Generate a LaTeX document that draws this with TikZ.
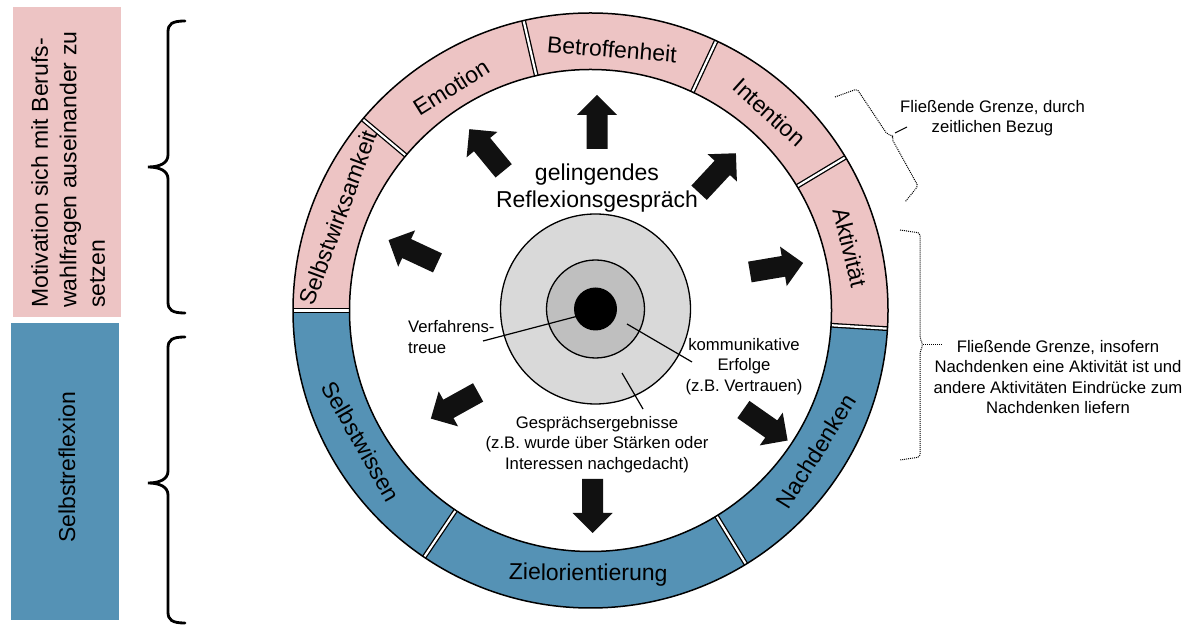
\documentclass[tikz,border=0pt]{standalone}
\usepackage{fontspec}
\setmainfont{Liberation Sans}
\usetikzlibrary{calc}
\definecolor{ringpink}{HTML}{EDC4C4}
\definecolor{ringblue}{HTML}{5592B5}
\definecolor{lgray}{HTML}{D9D9D9}
\definecolor{mgray}{HTML}{BFBFBF}
\definecolor{arrowblack}{HTML}{111111}
\begin{document}
\begin{tikzpicture}[x=1pt,y=1pt,
  ringlabel/.style={font=\fontsize{23}{27}\selectfont, inner sep=0pt, text=black},
  small/.style={font=\fontsize{16.7}{20.5}\selectfont, inner sep=0pt, text=black},
  big/.style={font=\fontsize{23}{28.5}\selectfont, inner sep=0pt, text=black},
  gapline/.style={line width=1.3pt, double=white, double distance=2.2pt},
  ringline/.style={line width=1.5pt},
  target/.style={circle, draw, line width=1.3pt, inner sep=0pt},
  leader/.style={line width=1.2pt},
  curly/.style={line width=2.8pt, line cap=round},
  dotcurly/.style={line width=1pt, dash pattern=on 1pt off 1pt, rounded corners=2pt},
  bigarrow/.pic={\fill[arrowblack] (-27,-10.5) -- (7,-10.5) -- (7,-20) -- (27,0) -- (7,20) -- (7,10.5) -- (-27,10.5) -- cycle;}
]
\useasboundingbox (0,0) rectangle (1191,626);
\fill[white] (0,0) rectangle (1191,626);

% left boxes
\fill[ringpink] (13,309) rectangle (121,619);
\fill[ringblue] (11,6) rectangle (119,303);
\node[big, rotate=90, anchor=north west, align=left] (motiv) at (31,318)
  {Motivation sich mit Berufs-\\wahlfragen auseinander zu\\setzen};
\node[big, rotate=90] (selbstr) at (67,158.5) {Selbstreflexion};

% braces
\draw[curly] (185,605) .. controls (172,605) and (168,602) .. (168,594) -- (168,471)
  .. controls (168,463) and (160,459) .. (148,459) .. controls (160,459) and (168,455) .. (168,447)
  -- (168,324) .. controls (168,316) and (172,313) .. (185,313);
\draw[curly] (185,289) .. controls (172,289) and (168,286) .. (168,278) -- (168,155)
  .. controls (168,147) and (160,143) .. (148,143) .. controls (160,143) and (168,139) .. (168,131)
  -- (168,14) .. controls (168,6) and (172,3) .. (185,3);

% ring
\begin{scope}[shift={(590.5,315.5)}]
  \foreach \a/\b/\c in {-3.5/31/ringpink, 31/65/ringpink, 65/103/ringpink, 103/140/ringpink,
      140/180/ringpink, 180/236/ringblue, 236/301.5/ringblue, 301.5/356.5/ringblue}
    \fill[\c] (\a:297.5) arc[start angle=\a, end angle=\b, radius=297.5]
      -- (\b:241) arc[start angle=\b, end angle=\a, radius=241] -- cycle;
  \foreach \a in {-3.5,31,65,103,140,180,236,301.5}
    \draw[gapline] (\a:241) -- (\a:297.5);
  \draw[ringline] (0,0) circle[radius=297.5];
  \draw[ringline] (0,0) circle[radius=241];

  \node[ringlabel, rotate=-4.7] (betr) at (85.3:262) {Betroffenheit};
  \node[ringlabel, rotate=32] (emo) at (122:263) {Emotion};
  \node[ringlabel, rotate=69.8] (swk) at (159.8:269) {Selbstwirksamkeit};
  \node[ringlabel, rotate=-42.1] (inten) at (47.9:267) {Intention};
  \node[ringlabel, rotate=-76.3] (akt) at (13.7:267) {Aktivität};
  \node[ringlabel, rotate=58] (nach) at (328:266) {Nachdenken};
  \node[ringlabel, rotate=-0.5] (ziel) at (269.5:264) {Zielorientierung};
  \node[ringlabel, rotate=-60.3] (swiss) at (209.7:264) {Selbstwissen};
\end{scope}

% central target
\node[target, fill=lgray, minimum size=190pt] (outc) at (595.5,317) {};
\node[target, fill=mgray, minimum size=98pt] (midc) at (595.5,317) {};
\node[circle, fill=black, inner sep=0pt, minimum size=43pt] (core) at (595.5,317) {};

% title
\node[ringlabel, align=center, font=\fontsize{23}{27}\selectfont] (title) at (597,437.5)
  {gelingendes\\Reflexionsgespräch};

% arrows
\pic[rotate=90] at (597,504) {bigarrow};
\pic[rotate=129.5] at (486.5,476) {bigarrow};
\pic[rotate=155] at (413,374.5) {bigarrow};
\pic[rotate=47] at (717.5,453) {bigarrow};
\pic[rotate=9.6] at (776.5,358.5) {bigarrow};
\pic[rotate=-35] at (765.5,201) {bigarrow};
\pic[rotate=-90] at (592.5,120) {bigarrow};
\pic[rotate=209] at (454.5,220.5) {bigarrow};

% inner labels
\node[small, align=left, anchor=west] (verf) at (408,288.8) {Verfahrens-\\treue};
\node[small, align=center] (komm) at (744,259.7) {kommunikative\\Erfolge\\(z.B. Vertrauen)};
\node[small, align=center] (gespr) at (597,181.7)
  {Gesprächsergebnisse\\(z.B. wurde über Stärken oder\\Interessen nachgedacht)};
\coordinate (verfA) at (582,311);
\coordinate (verfB) at (483,285);
\coordinate (kommA) at (627,302);
\coordinate (kommB) at (692,264);
\coordinate (gesA) at (622,253);
\coordinate (gesB) at (643,217);
\draw[leader] (verfA) -- (verfB);
\draw[leader] (kommA) -- (kommB);
\draw[leader] (gesA) -- (gesB);

% right annotations
\draw[dotcurly] (835,529) -- (857,537) -- (887,492) -- (893,490) -- (892,487) -- (918,440) -- (905,424);
\coordinate (tickA) at (895,493);
\coordinate (tickB) at (907,499);
\draw[line width=0.9pt] (tickA) -- (tickB);
\node[small, align=center] (fl1) at (992.5,508) {Fließende Grenze, durch\\zeitlichen Bezug};

\draw[dotcurly] (900,396) -- (920,393) -- (920,288) -- (923,281) -- (920,274) -- (920,169) -- (900,166);
\coordinate (tick2A) at (923,281);
\coordinate (tick2B) at (943,281);
\draw[line width=1pt, dash pattern=on 1pt off 1pt] (tick2A) -- (tick2B);
\node[small, align=center] (fl2) at (1058,249)
  {Fließende Grenze, insofern\\Nachdenken eine Aktivität ist und\\andere Aktivitäten Eindrücke zum\\Nachdenken liefern};
\end{tikzpicture}
\end{document}
